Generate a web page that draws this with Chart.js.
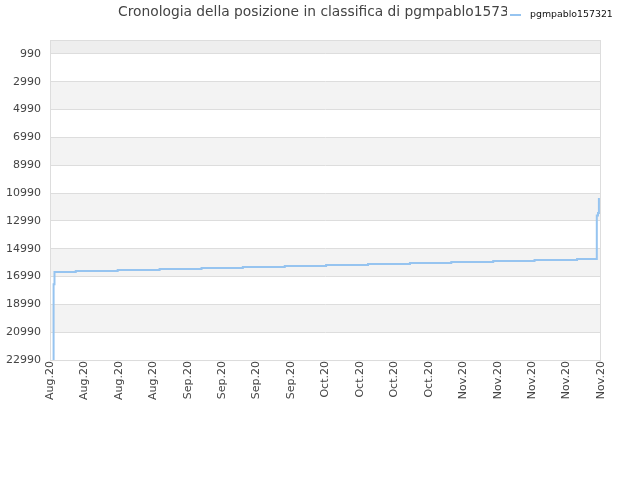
<!DOCTYPE html>
<html>
<head>
<meta charset="utf-8">
<script src="https://cdn.jsdelivr.net/npm/chart.js@4.4.0/dist/chart.umd.min.js"></script>
<style>
  html, body { margin: 0; padding: 0; background: #fff; }
  #wrap { width: 640px; height: 480px; }
</style>
</head>
<body>
<div id="wrap"><canvas id="myChart" width="640" height="480"></canvas></div>
<script>
// rank history of pgmpablo157321, x = days from start of range
let titleText = "Cronologia della posizione in classifica di pgmpablo157321";
let seriesName = "pgmpablo157321";
let xLabels = ["Aug.20", "Aug.20", "Aug.20", "Aug.20", "Sep.20", "Sep.20", "Sep.20", "Sep.20",
    "Oct.20", "Oct.20", "Oct.20", "Oct.20", "Nov.20", "Nov.20", "Nov.20", "Nov.20", "Nov.20"];
let yTicks = [990, 2990, 4990, 6990, 8990, 10990, 12990, 14990, 16990, 18990, 20990, 22990];
let days = [0.5, 0.6, 0.75, 4.3, 11.3, 18.3, 25.3, 32.2, 39.2, 46.1, 53.1, 60.1, 67.0, 74.0, 80.9, 88.0, 91.3, 91.5, 91.65];
let ranks = [22990, 17540, 16660, 16590, 16520, 16450, 16380, 16300, 16230, 16160, 16090, 16020, 15950, 15880, 15800, 15730, 12610, 12420, 11350];

let xMax = 92;
let yTop = -10;
let lineColor = 'rgba(150, 196, 240, 1)';

let bandsPlugin = {
    id: 'bands',
    beforeDraw(chart) {
        let ctx = chart.ctx;
        let area = chart.chartArea;
        let y = chart.scales.y;
        ctx.save();
        // title, the legend sits on top of its tail
        ctx.font = "13.8px 'DejaVu Sans'";
        ctx.fillStyle = "#444";
        ctx.textAlign = "left";
        ctx.textBaseline = "middle";
        ctx.fillText(titleText, 118, 12);
        ctx.fillStyle = "#fff";
        ctx.fillRect(507, 0, 133, 30);

        // legend
        ctx.fillStyle = lineColor;
        ctx.fillRect(510, 14, 11, 2);
        ctx.font = "9.4px 'DejaVu Sans'";
        ctx.fillStyle = "#111";
        ctx.fillText(seriesName, 530, 15);

        let edges = [yTop].concat(yTicks);
        for (let i = 0; i < edges.length - 1; i++) {
            let p1 = y.getPixelForValue(edges[i]);
            let p2 = y.getPixelForValue(edges[i + 1]);
            if (i === 0) ctx.fillStyle = "#eeeeee";
            else if (i % 2 === 0) ctx.fillStyle = "#f3f3f3";
            else ctx.fillStyle = "#ffffff";
            ctx.fillRect(area.left, p1, area.right - area.left, p2 - p1);
        }
        ctx.restore();
    },
    afterDatasetsDraw(chart) {
        let ctx = chart.ctx;
        let area = chart.chartArea;
        ctx.save();
        ctx.strokeStyle = "#dddddd";
        ctx.lineWidth = 1;
        ctx.strokeRect(area.left + 0.5, area.top + 0.5, area.right - area.left - 1, area.bottom - area.top);
        ctx.restore();
    }
};

let points = days.map((d, i) => ({ x: d, y: ranks[i] }));

let ctx = document.getElementById('myChart').getContext('2d');
let myChart = new Chart(ctx, {
    type: 'line',
    data: {
        datasets: [{
            label: seriesName,
            data: points,
            borderColor: lineColor,
            backgroundColor: lineColor,
            borderWidth: 2,
            pointRadius: 0,
            stepped: 'before',
            fill: false
        }]
    },
    options: {
        responsive: false,
        animation: false,
        devicePixelRatio: 1,
        layout: {
            padding: { top: 40, left: 6, right: 39, bottom: 79 }
        },
        plugins: {
            title: { display: false },
            tooltip: { enabled: false },
            legend: { display: false }
        },
        scales: {
            x: {
                type: 'linear',
                min: 0,
                max: xMax,
                afterBuildTicks: axis => {
                    axis.ticks = xLabels.map((l, i) => ({ value: i * xMax / (xLabels.length - 1) }));
                },
                ticks: {
                    autoSkip: false,
                    minRotation: 90,
                    maxRotation: 90,
                    padding: 1,
                    color: '#444',
                    font: { family: 'DejaVu Sans', size: 11 },
                    callback: (v, i) => xLabels[i]
                },
                grid: { display: false, drawTicks: false },
                border: { display: false }
            },
            y: {
                type: 'linear',
                reverse: true,
                min: yTop,
                max: 22990,
                afterBuildTicks: axis => {
                    axis.ticks = yTicks.map(v => ({ value: v }));
                },
                afterFit: axis => {
                    axis.width = 44;
                },
                ticks: {
                    padding: 9,
                    color: '#444',
                    font: { family: 'DejaVu Sans', size: 11 },
                    callback: v => String(v)
                },
                grid: { color: '#dddddd', drawTicks: false },
                border: { display: false }
            }
        }
    },
    plugins: [bandsPlugin]
});
</script>
</body>
</html>
